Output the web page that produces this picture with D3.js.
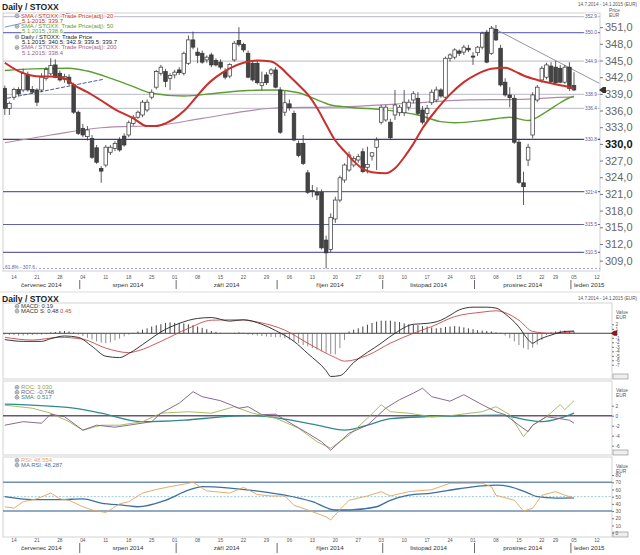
<!DOCTYPE html>
<html><head><meta charset="utf-8">
<script src="https://cdn.jsdelivr.net/npm/d3@7"></script>
<style>
body{margin:0;background:#fff}
svg{display:block}
text{font-family:Arial,"Liberation Sans",sans-serif}
</style></head>
<body><svg id="c" width="640" height="555"></svg>
<script>
// ---------------- DATA ----------------
const startDate = "2014-07-10", axisEndDate = "2015-01-14";
const holidays = ["2014-12-25","2014-12-26","2015-01-01"];
const monthNames = ["červenec 2014","srpen 2014","září 2014","říjen 2014","listopad 2014","prosinec 2014","leden 2015"];
// daily candles [open, high, low, close]
const ohlc = [
[340.0,340.5,335.2,336.4],[336.4,337.6,335.2,337.3],[338.4,340.1,337.9,339.8],[339.8,340.2,338.6,339.0],[339.7,343.5,339.3,342.7],
[342.4,343.0,339.4,339.7],[339.8,340.4,339.0,339.3],[339.7,340.0,336.8,337.5],[339.7,342.7,339.3,342.0],[341.8,343.8,341.4,343.4],
[342.6,345.4,342.3,344.1],[344.2,345.2,341.8,342.0],[342.7,343.2,341.2,341.5],[341.6,342.6,341.0,342.1],[342.0,342.5,340.5,340.9],
[340.6,341.0,335.4,335.7],[335.7,336.0,331.6,331.9],[332.8,333.6,331.2,331.6],[331.3,333.2,330.6,332.5],[331.0,331.6,327.3,327.6],
[329.3,329.8,326.4,326.7],[325.6,326.0,323.0,325.1],[326.2,329.8,325.8,329.4],[328.5,329.8,328.0,329.4],[329.2,330.5,328.7,330.1],
[330.7,331.2,328.6,328.9],[331.4,331.9,329.5,329.8],[331.6,334.2,331.2,333.8],[333.7,335.2,333.3,334.8],[334.8,336.0,334.5,335.7],
[335.2,337.9,334.8,337.5],[336.1,338.0,335.7,337.5],[338.4,339.8,338.0,339.3],[340.2,343.3,339.8,343.0],[342.7,344.2,342.3,343.8],
[343.0,343.5,340.2,341.2],[341.8,342.7,339.7,342.3],[342.4,343.3,341.8,342.9],[343.3,343.8,342.4,342.8],[342.7,346.6,342.3,346.3],
[344.5,349.5,344.2,348.7],[348.7,350.2,347.0,347.4],[346.5,347.3,344.5,345.9],[346.3,346.8,344.4,344.7],[345.1,345.9,344.6,345.6],
[346.0,346.4,343.8,344.2],[345.0,345.4,343.9,344.2],[344.7,345.2,343.4,343.8],[343.0,343.6,341.6,342.0],[342.2,344.5,341.8,344.3],
[345.1,348.5,344.8,348.1],[348.6,351.0,347.5,347.9],[347.9,348.2,346.5,346.9],[346.3,346.8,341.8,342.0],[344.5,345.0,341.2,341.5],
[344.5,345.0,340.7,341.0],[340.5,343.0,339.7,341.0],[342.4,342.9,340.6,341.0],[342.7,343.6,342.3,343.3],[343.3,343.8,340.0,340.2],
[339.7,340.2,331.8,332.1],[335.7,339.5,335.0,337.4],[337.2,338.0,336.0,336.5],[335.5,336.0,330.5,330.7],[330.1,330.6,327.6,327.9],
[330.1,331.6,326.2,326.5],[324.8,325.3,321.0,321.3],[321.6,322.6,320.4,321.4],[321.3,322.2,319.9,320.8],[321.3,321.8,311.0,311.3],
[312.7,313.5,307.6,310.4],[311.0,317.5,310.5,316.8],[316.5,320.5,315.8,319.9],[319.9,324.3,319.5,323.9],[323.5,326.5,323.0,326.2],
[325.3,328.6,325.0,328.0],[326.2,327.8,325.8,327.4],[327.1,328.2,326.6,327.7],[328.6,329.2,324.8,325.0],[325.8,329.5,324.7,326.3],
[327.8,328.5,327.0,328.4],[329.4,331.2,325.3,330.7],[333.9,337.0,333.5,336.6],[334.3,337.0,334.0,336.6],[333.9,334.5,330.8,331.1],
[335.2,339.7,334.3,337.0],[335.6,337.0,335.0,336.6],[335.6,339.7,335.0,337.5],[336.6,338.0,336.0,337.5],[337.9,339.5,337.3,339.0],
[338.2,339.3,335.2,335.5],[336.1,336.8,333.5,333.9],[335.5,337.0,334.0,336.4],[337.4,339.8,337.0,339.3],[337.9,340.3,337.5,339.7],
[339.7,340.0,338.3,338.6],[338.4,345.7,338.0,345.4],[345.4,346.3,344.8,346.0],[345.6,347.2,345.2,346.9],[346.7,347.0,345.8,346.3],
[346.5,347.8,346.0,347.4],[347.2,347.8,346.5,346.9],[345.8,346.5,344.2,345.6],[346.4,347.6,345.8,347.4],[347.4,350.2,347.0,349.9],
[350.1,350.5,344.5,344.7],[346.3,351.2,346.0,350.8],[350.6,351.4,348.5,348.7],[347.2,347.8,340.3,340.6],[341.1,341.8,338.5,338.8],
[338.8,340.2,336.6,338.3],[338.2,338.8,330.0,330.3],[330.3,330.8,322.8,323.1],[323.0,325.0,319.0,322.3],[327.1,330.0,326.0,329.4],
[331.6,339.3,331.0,338.8],[337.9,340.6,337.5,340.2],[341.5,344.0,341.0,343.6],[342.0,344.6,341.6,344.2],[344.0,344.7,341.0,341.2],
[343.8,344.9,340.8,341.0],[343.6,344.2,340.9,341.1],[341.1,344.2,340.8,343.8],[343.8,344.7,339.5,340.0],[340.5,342.9,339.5,339.7]
];
// moving averages: [day index, value]
const sma20 = [[0,344.6],[3,343.1],[8,342.1],[10,342.1],[13,341.8],[15,340.6],[18,339.3],[21,337.8],[24,336.2],[28,334.6],[31,333.2],[33,333.2],[35,333.7],[37,334.6],[39,335.9],[42,338.7],[44,340.6],[46,342.0],[49,343.6],[52,344.6],[55,345.0],[58,344.8],[60,343.8],[62,342.2],[64,340.6],[66,338.9],[68,336.5],[70,333.5],[72,330.6],[74,328.7],[76,326.9],[78,325.5],[80,324.9],[83,324.7],[85,325.6],[87,327.6],[89,330.0],[91,332.8],[94,336.1],[97,338.9],[100,341.1],[103,342.6],[106,343.5],[109,343.7],[111,343.1],[113,342.3],[116,341.5],[119,340.9],[122,340.4],[124,339.9]];
const sma50 = [[0,343.2],[6,343.5],[14,343.6],[18,343.1],[24,341.5],[28,340.3],[32,339.1],[39,338.6],[46,339.1],[53,339.6],[59,339.7],[64,339.2],[69,337.6],[71,337.0],[75,336.6],[83,336.1],[90,335.2],[95,334.0],[98,333.8],[105,334.3],[110,334.8],[114,334.2],[118,335.8],[121,337.4],[123,338.3],[124,338.6]];
const sma200 = [[0,330.2],[10,331.6],[21,332.9],[34,333.4],[43,334.6],[60,336.5],[71,336.6],[90,337.4],[101,337.9],[112,338.0],[123,338.4],[124,338.4]];
const levels = [352.9,350.0,344.9,338.9,336.4,330.8,321.4,315.5,310.5];
const fibLevel = 307.6;
const trendDown = [[106,351.0],[129.5,340.9]];
const trendUpA = [[0.5,338.2],[21.4,341.6]];
const trendUpB = [[0,351.0],[18.1,354.3]];
const priceTicks = [309,312,315,318,321,324,327,330,333,336,339,342,345,348,351];
// MACD panel
const macdLine = [[0,-1.4],[4,-1.8],[8,-1.8],[10,-1.2],[13,-0.6],[16,-0.9],[19,-2.9],[22,-5.1],[25,-5.4],[27,-4.5],[31,-1.8],[34,0.3],[38,2.2],[42,3.3],[45,3.5],[49,2.7],[52,3.0],[56,2.0],[59,0.6],[63,-1.8],[66,-4.5],[70,-8.3],[71,-9.6],[73,-9.4],[76,-6.5],[82,-2.2],[85,0.0],[89,2.0],[92,2.2],[95,2.9],[97,4.0],[99,5.2],[102,5.8],[105,5.8],[107,5.6],[109,4.3],[112,1.4],[114,-1.4],[115,-2.2],[116,-1.6],[119,-0.4],[122,0.4],[124,0.5]];
const macdSignal = [[0,-0.9],[6,-1.5],[12,-0.9],[17,-1.3],[22,-3.3],[27,-4.3],[29,-3.9],[34,-1.8],[40,1.1],[45,2.9],[51,3.0],[55,2.5],[61,0.7],[66,-2.2],[72,-5.4],[74,-6.2],[79,-4.9],[84,-2.2],[89,0.0],[93,1.5],[98,3.7],[104,4.7],[107,5.0],[112,2.9],[115,0.4],[119,0.0],[124,0.35]];
const macdHist = [-0.3,-0.4,-0.4,-0.5,-0.5,-0.4,-0.4,-0.3,-0.3,-0.2,
0.2,0.3,0.5,0.5,0.4,0.2,
-0.3,-0.6,-1.0,-1.4,-1.8,-2.1,-2.2,-2.0,-1.6,-1.2,-0.7,
-0.3,0.1,0.4,
0.8,1.1,1.5,1.8,2.0,2.3,2.4,2.3,2.3,2.2,2.0,1.8,1.5,1.2,0.9,0.5,
0.3,0.1,0.0,-0.1,0.1,0.2,0.1,
-0.3,-0.4,-0.5,-0.6,-0.7,-0.8,-0.9,-0.9,-1.1,
-1.4,-1.8,-2.2,-2.6,-2.9,-3.3,-3.6,-4.0,-4.3,-4.6,-4.7,-3.3,-1.5,
0.4,0.8,1.1,1.5,1.9,2.3,2.6,2.8,2.8,2.8,2.6,2.5,2.2,2.0,
1.9,1.8,1.6,1.5,1.3,1.1,1.2,1.4,1.5,1.6,1.5,1.3,1.1,0.9,0.7,0.6,0.5,0.4,0.2,0.1,
-0.5,-1.1,-1.8,-2.6,-3.3,-3.6,-3.2,-2.5,-1.5,
-0.4,0.2,0.4,0.6,0.6,0.5,0.4];
const macdTicks = [2,1,0,-1,-2,-3,-4,-5,-6,-7];
// ROC panel
const rocA = [[0,2.1],[6,1.5],[10,0.5],[14,-1.2],[17,-2.9],[21,-1.9],[25,-1.9],[30,-1.2],[34,0.5],[40,0.8],[45,0.5],[50,1.8],[54,0.5],[59,-0.5],[64,-2.5],[68,-5.2],[71,-6.5],[75,-3.9],[79,-0.5],[82,2.2],[84,0.8],[88,0.5],[93,-0.2],[97,0.0],[104,0.8],[107,1.8],[110,0.2],[113,-4.2],[115,-1.9],[118,-0.2],[121,2.2],[122,1.2],[124,3.0]];
const rocB = [[0,-1.9],[4,-1.2],[8,-1.5],[10,0.3],[13,-0.2],[17,-2.9],[20,-1.9],[24,-2.3],[27,-1.9],[32,-1.2],[34,0.5],[38,2.5],[41,4.8],[43,3.8],[47,3.0],[51,1.5],[53,1.8],[56,0.2],[59,0.3],[63,-1.9],[66,-3.5],[69,-5.2],[71,-6.9],[73,-5.2],[75,-3.5],[79,-1.9],[83,1.5],[86,3.2],[89,4.5],[91,5.5],[93,3.8],[97,2.9],[100,4.2],[104,2.2],[107,0.8],[109,0.2],[112,-1.9],[114,-3.2],[115,-1.9],[118,-0.2],[121,-0.6],[123,-0.9],[124,-1.5]];
const rocSma = [[0,2.3],[15,1.5],[21,0.5],[30,-1.2],[39,-0.9],[48,-0.2],[54,0.0],[61,-0.7],[68,-1.9],[74,-2.9],[79,-1.9],[84,-0.6],[92,-0.2],[101,0.0],[108,0.1],[114,-0.9],[117,-1.2],[121,-0.5],[124,0.5]];
const rocTicks = [2,0,-2,-4,-6];
// RSI panel
const rsi = [[0,36],[2,34],[4,43],[7,47],[10,55],[12,47],[14,45],[17,36],[19,31.5],[22,28],[25,40],[27,43],[30,55],[33,60],[36,64],[40,68.6],[41,70],[44,58],[49,55],[52,63],[55,53],[58,51],[61,51],[63,38],[66,31.5],[70,22],[71,17.6],[73,32],[75,45],[79,51],[82,57],[84,51],[88,57],[93,59.7],[97,68.6],[100,68.6],[104,68.6],[106,64],[107,52],[111,45],[113,30],[115,34],[117,52],[120,57],[122,52],[124,48.6]];
const rsiMa = [[0,50],[6,45.8],[12,45.8],[17,47],[21,41],[26,38],[29,36],[35,45],[40,59],[43,64],[49,62],[56,57],[61,52],[67,43],[72,31.5],[75,31.5],[81,36],[84,45],[88,52],[93,55],[99,61],[104,65],[107,66],[110,64],[114,55],[116,50],[120,48],[124,48.3]];
const rsiTicks = [80,70,60,50,40,30,20,10,0];
const rsiBands = [70,50,30];

// ---------------- LAYOUT ----------------
const svg = d3.select("#c");
const L = 3, R = 600, RS = 612;
const main = {top:13, bottom:271};
const pMacd = {top:303, bottom:379};
const pRoc = {top:381, bottom:455};
const pRsi = {top:457, bottom:537};

// trading-day calendar (category axis)
function buildDays(s,e,hol){
  const out=[]; let t=Date.parse(s+"T00:00:00Z"); const end=Date.parse(e+"T00:00:00Z");
  const hs=new Set(hol);
  while(t<=end){const d=new Date(t); const wd=d.getUTCDay(); const iso=d.toISOString().slice(0,10);
    if(wd!==0&&wd!==6&&!hs.has(iso)) out.push(d); t+=86400000;}
  return out;
}
const days = buildDays(startDate, axisEndDate, holidays);
const x = d3.scaleLinear().domain([0,ohlc.length-1]).range([4.8,574]);

const y = d3.scaleLinear().domain([307.14,353.54]).range([main.bottom,main.top]);
const yM = d3.scaleLinear().domain([-10.16,6.73]).range([pMacd.bottom,pMacd.top]);
const yR = d3.scaleLinear().domain([-7.86,6.94]).range([pRoc.bottom,pRoc.top]);
const yS = d3.scaleLinear().domain([-6.0,105.1]).range([pRsi.bottom,pRsi.top]);

const defs = svg.append("defs");
function clip(id,x0,y0,x1,y1){defs.append("clipPath").attr("id",id).append("rect").attr("x",x0).attr("y",y0).attr("width",x1-x0).attr("height",y1-y0);}
clip("cm",L,main.top,R,main.bottom);
clip("cmacd",L,pMacd.top,RS,pMacd.bottom);
clip("croc",L,pRoc.top,RS,pRoc.bottom);
clip("crsi",L,pRsi.top,RS,pRsi.bottom);

const fontS = 5.9;

// ---------------- MAIN PANEL ----------------
svg.append("text").attr("x",2).attr("y",10).attr("font-size",8.6).attr("font-weight","bold").attr("fill","#222").text("Daily / STOXX");
svg.append("text").attr("x",637).attr("y",6).attr("text-anchor","end").attr("font-size",4.6).attr("fill","#555").text("14.7.2014 - 14.1.2015 (EUR)");
svg.append("text").attr("x",609).attr("y",11.5).attr("font-size",4.8).attr("fill","#555").text("Price");
svg.append("text").attr("x",609).attr("y",16.5).attr("font-size",4.8).attr("fill","#555").text("EUR");

svg.append("rect").attr("x",L).attr("y",main.top).attr("width",R-L).attr("height",main.bottom-main.top)
  .attr("fill","none").attr("stroke","#c4c4c4").attr("stroke-width",0.8);

const gm = svg.append("g").attr("clip-path","url(#cm)");
const levelStroke = (v,i)=> i===1 ? "#7474bf" : (i===5 ? "#3e3e7e" : (i>=6 ? "#6262aa" : "#c6c6d0"));
gm.selectAll("line.lvl").data(levels).join("line").attr("class","lvl")
  .attr("x1",L).attr("x2",R).attr("y1",d=>y(d)).attr("y2",d=>y(d))
  .attr("stroke",levelStroke).attr("stroke-width",(d,i)=> i===5?1.3:1.2);
gm.append("line").attr("x1",L).attr("x2",R).attr("y1",y(fibLevel)).attr("y2",y(fibLevel))
  .attr("stroke","#8a8ac6").attr("stroke-width",0.8).attr("stroke-dasharray","2,2");

const lineXY = (ys)=> d3.line().x(d=>x(d[0])).y(d=>ys(d[1]));
gm.append("path").datum(trendUpB).attr("d",lineXY(y)).attr("stroke","#6a8cc8").attr("stroke-width",0.9).attr("fill","none");
gm.append("path").datum(trendUpA).attr("d",lineXY(y)).attr("stroke","#3c4a8a").attr("stroke-width",0.9).attr("stroke-dasharray","4,1.5").attr("fill","none");
gm.append("path").datum(trendDown).attr("d",lineXY(y)).attr("stroke","#8a8a9a").attr("stroke-width",0.9).attr("fill","none");

const smooth = (ys)=> d3.line().x(d=>x(d[0])).y(d=>ys(d[1])).curve(d3.curveMonotoneX);
gm.append("path").datum(sma200).attr("d",smooth(y)).attr("fill","none").attr("stroke","#b38aa8").attr("stroke-width",1.2);
gm.append("path").datum(sma50).attr("d",smooth(y)).attr("fill","none").attr("stroke","#5c9e34").attr("stroke-width",1.4);

const cw = 3.6;
const cg = gm.selectAll("g.cd").data(ohlc).join("g").attr("class","cd");
cg.append("line").attr("x1",(d,i)=>x(i)).attr("x2",(d,i)=>x(i)).attr("y1",d=>y(d[1])).attr("y2",d=>y(d[2]))
  .attr("stroke","#333").attr("stroke-width",0.8);
cg.append("rect").attr("x",(d,i)=>x(i)-cw/2).attr("width",cw)
  .attr("y",d=>y(Math.max(d[0],d[3]))).attr("height",d=>Math.max(0.8,Math.abs(y(d[0])-y(d[3]))))
  .attr("fill",d=>d[3]>=d[0]?"#fff":"#444").attr("stroke","#333").attr("stroke-width",0.7);

gm.append("path").datum(sma20).attr("d",smooth(y)).attr("fill","none").attr("stroke","#c8302c").attr("stroke-width",2);

const lg = svg.append("g");
levels.forEach((v,i)=>{
  lg.append("text").attr("x",597).attr("y",y(v)+1.8).attr("text-anchor","end")
    .attr("font-size",4.8).attr("fill","#5a5aa0").attr("stroke","#fff").attr("stroke-width",2)
    .attr("paint-order","stroke").text(d3.format(".1f")(v));
});
svg.append("text").attr("x",5).attr("y",y(fibLevel)+0.5).attr("font-size",4.8).attr("fill","#5a5aa0")
  .attr("stroke","#fff").attr("stroke-width",2).attr("paint-order","stroke").text("61.8% - " + fibLevel.toFixed(1));

const fmt = v => d3.format(".1f")(v).replace(".",",");
const ax = svg.append("g").attr("transform",`translate(${R},0)`)
  .call(d3.axisRight(y).tickValues(priceTicks).tickSize(3).tickPadding(2).tickFormat(fmt));
ax.select(".domain").remove();
ax.selectAll("line").attr("stroke","#777");
ax.selectAll("text").attr("font-size",11).attr("font-family","Arial,'Liberation Sans',sans-serif")
  .attr("font-weight",d=>d===330?"bold":"normal").attr("fill",d=>d===330?"#111":"#666");
const last = ohlc[ohlc.length-1][3];
svg.append("path").attr("d",`M${R-1},${y(last)} l4,-3 h3 v6 h-3 z`).attr("fill","#333");

const legMain = [
  ["SMA / STOXX: Trade Price(adj): 20","#c8302c",true],["5.1.2015: 339.7","#c8302c",false],
  ["SMA / STOXX: Trade Price(adj): 50","#5c9e34",true],["5.1.2015: 338.6","#5c9e34",false],
  ["Daily / STOXX: Trade Price","#222",true],["5.1.2015: 340.5; 342.9; 339.5; 339.7","#222",false],
  ["SMA / STOXX: Trade Price(adj): 200","#a0608a",true],["5.1.2015: 338.4","#a0608a",false]];
function legend(g,items,x0,y0,dy){
  items.forEach((it,i)=>{
    const yy=y0+i*dy;
    if(it[2]){
      g.append("circle").attr("cx",x0-4).attr("cy",yy-1.7).attr("r",1.9).attr("fill","#fff").attr("stroke","#667").attr("stroke-width",0.6);
      g.append("path").attr("d",`M${x0-5.5},${yy-1.7}h3M${x0-4},${yy-3.2}v3`).attr("stroke","#667").attr("stroke-width",0.5);
    }
    g.append("text").attr("x",it[2]?x0:x0+1).attr("y",yy).attr("font-size",fontS).attr("fill",it[1])
      .attr("stroke","#fff").attr("stroke-width",1.6).attr("paint-order","stroke").text(it[0]);
  });
}
legend(svg.append("g"),legMain,21,17.5,5.3);

function dateAxis(yNum,yMon,sepTop,sepBot){
  const g = svg.append("g");
  const mondays = days.map((d,i)=>[d,i]).filter(p=>p[0].getUTCDay()===1);
  g.selectAll("text.wk").data(mondays).join("text").attr("class","wk")
    .attr("x",p=>x(p[1])).attr("y",yNum).attr("text-anchor","middle").attr("font-size",4.8).attr("fill","#555")
    .text(p=>d3.utcFormat("%d")(p[0]));
  const firsts=[]; days.forEach((d,i)=>{ if(i===0||d.getUTCMonth()!==days[i-1].getUTCMonth()) firsts.push(i); });
  const seps = firsts.slice(1).map(i=>x(i)+1.5);
  g.selectAll("line.sep").data(seps).join("line").attr("class","sep").attr("x1",d=>d).attr("x2",d=>d)
    .attr("y1",sepTop).attr("y2",sepBot).attr("stroke","#444").attr("stroke-width",0.8);
  const bounds=[L].concat(seps);
  monthNames.forEach((m,i)=>{
    const isLast = i===monthNames.length-1;
    const cx = isLast ? bounds[i]+3 : (bounds[i]+bounds[i+1])/2;
    g.append("text").attr("x",cx).attr("y",yMon).attr("text-anchor",isLast?"start":"middle")
      .attr("font-size",6.2).attr("fill","#333").text(m);
  });
}
dateAxis(278.5,286.5,280,289);

// ---------------- SUB PANELS ----------------
svg.append("line").attr("x1",0).attr("x2",640).attr("y1",292).attr("y2",292).attr("stroke","#ddd");
svg.append("text").attr("x",2).attr("y",302).attr("font-size",8.6).attr("font-weight","bold").attr("fill","#222").text("Daily / STOXX");
svg.append("text").attr("x",637).attr("y",300).attr("text-anchor","end").attr("font-size",4.6).attr("fill","#555").text("14.7.2014 - 14.1.2015 (EUR)");

function frame(p){
  svg.append("rect").attr("x",L).attr("y",p.top).attr("width",RS-L).attr("height",p.bottom-p.top)
    .attr("fill","none").attr("stroke","#c8c8c8").attr("stroke-width",0.8);
  svg.append("rect").attr("x",RS+1).attr("y",p.bottom-5).attr("width",15).attr("height",5)
    .attr("fill","#eee").attr("stroke","#888").attr("stroke-width",0.6);
}
function rightAxis(ys,ticks,top){
  svg.append("text").attr("x",RS+4).attr("y",top+11).attr("font-size",4.8).attr("fill","#555").text("Value");
  svg.append("text").attr("x",RS+4).attr("y",top+16).attr("font-size",4.8).attr("fill","#555").text("EUR");
  const a = svg.append("g").attr("transform",`translate(${RS},0)`)
    .call(d3.axisRight(ys).tickValues(ticks).tickSize(2).tickPadding(1.5).tickFormat(d=>d));
  a.select(".domain").remove();
  a.selectAll("line").attr("stroke","#777");
  a.selectAll("text").attr("font-size",4.8).attr("fill","#555").attr("font-family","Arial,'Liberation Sans',sans-serif");
}

// MACD
frame(pMacd);
const g1 = svg.append("g").attr("clip-path","url(#cmacd)");
g1.selectAll("line.h").data(macdHist).join("line").attr("class","h")
  .attr("x1",(d,i)=>x(i)).attr("x2",(d,i)=>x(i)).attr("y1",yM(0)).attr("y2",d=>yM(d))
  .attr("stroke",d=>d>=0?"#444":"#8c8c8c").attr("stroke-width",1);
g1.append("line").attr("x1",L).attr("x2",RS).attr("y1",yM(0)).attr("y2",yM(0)).attr("stroke","#444").attr("stroke-width",1);
g1.append("path").datum(macdSignal).attr("d",smooth(yM)).attr("fill","none").attr("stroke","#c84848").attr("stroke-width",0.9);
g1.append("path").datum(macdLine).attr("d",smooth(yM)).attr("fill","none").attr("stroke","#222").attr("stroke-width",0.9);
rightAxis(yM,macdTicks,pMacd.top);
svg.append("path").attr("d",`M${RS-1},${yM(0)} l3,-2.5 h3 v5 h-3 z`).attr("fill","#8a1a1a");
legend(svg.append("g"),[["MACD: 0.19","#333",true],["MACD S: 0.48","#333",true]],21,308,4.8);
svg.append("text").attr("x",60).attr("y",312.8).attr("font-size",fontS).attr("fill","#c84848").text("0.45");

// ROC
frame(pRoc);
const g2 = svg.append("g").attr("clip-path","url(#croc)");
g2.append("line").attr("x1",L).attr("x2",RS).attr("y1",yR(0)).attr("y2",yR(0)).attr("stroke","#6e5670").attr("stroke-width",1.5);
g2.append("path").datum(rocSma).attr("d",smooth(yR)).attr("fill","none").attr("stroke","#2f8a8c").attr("stroke-width",1.3);
g2.append("path").datum(rocA).attr("d",lineXY(yR)).attr("fill","none").attr("stroke","#9cb656").attr("stroke-width",0.9);
g2.append("path").datum(rocB).attr("d",lineXY(yR)).attr("fill","none").attr("stroke","#7e5a7e").attr("stroke-width",0.9);
rightAxis(yR,rocTicks,pRoc.top);
legend(svg.append("g"),[["ROC: 3.030","#8aa846",true],["ROC: -0.748","#7e5a7e",true],["SMA: 0.517","#2f8a8c",true]],21,389,5);

// RSI
frame(pRsi);
const g3 = svg.append("g").attr("clip-path","url(#crsi)");
g3.selectAll("line.b").data(rsiBands).join("line").attr("class","b")
  .attr("x1",L).attr("x2",RS).attr("y1",d=>yS(d)).attr("y2",d=>yS(d))
  .attr("stroke",d=>d===50?"#9ccbd8":"#6f8fae").attr("stroke-width",d=>d===50?1:1.5)
  .attr("stroke-dasharray",d=>d===50?"2,1.5":null);
g3.append("path").datum(rsiMa).attr("d",smooth(yS)).attr("fill","none").attr("stroke","#3f6f9f").attr("stroke-width",1.3);
g3.append("path").datum(rsi).attr("d",lineXY(yS)).attr("fill","none").attr("stroke","#e3a45a").attr("stroke-width",0.9);
rightAxis(yS,rsiTicks,pRsi.top);
legend(svg.append("g"),[["RSI: 48.554","#e3a45a",true],["MA RSI: 48.287","#3f6f9f",true]],21,462,4.8);

dateAxis(542,550,543,553);
</script>
</body></html>
